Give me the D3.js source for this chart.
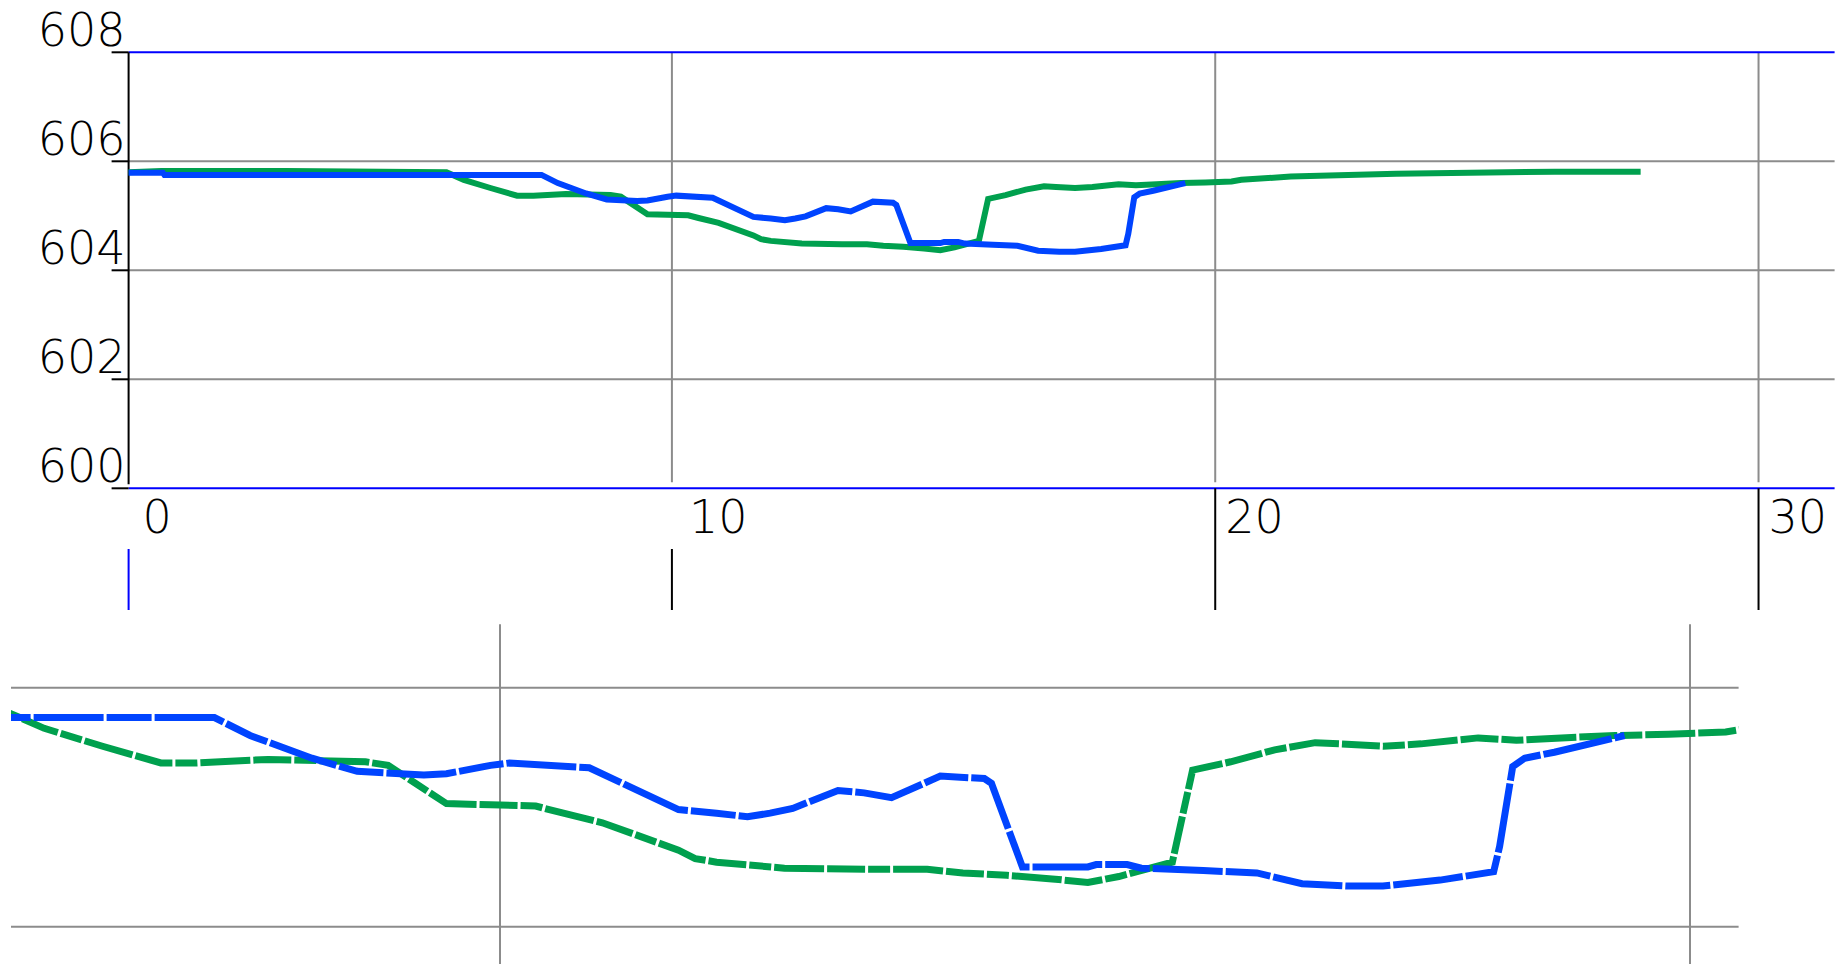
<!DOCTYPE html>
<html>
<head>
<meta charset="utf-8">
<script src="https://cdn.jsdelivr.net/npm/d3@7"></script>
<style>
  html, body { margin: 0; padding: 0; background: #fff; overflow: hidden; }
  svg { display: block; }
  text { font-family: "DejaVu Sans", sans-serif; font-weight: 200; fill: #000; }
</style>
</head>
<body>
<svg id="chart" width="1847" height="964"></svg>
<script>
// ---- data ----
const yTickValues = [600, 602, 604, 606, 608];
const xTickValues = [0, 10, 20, 30];
const yTickLabels = ["600", "602", "604", "606", "608"];
const xTickLabels = ["0", "10", "20", "30"];

// blue profile: [distance, elevation]
const blueX = [0, 0.63, 0.66, 7.6, 7.9, 8.42, 8.8, 9.36, 9.55, 9.92, 10.08, 10.75, 11.5, 11.82, 12.08, 12.27, 12.46, 12.84, 13.06, 13.29, 13.7, 14.07, 14.13, 14.39, 14.94, 15.01, 15.27, 15.39, 15.91, 16.36, 16.74, 17.13, 17.42, 17.9, 18.35, 18.4, 18.51, 18.61, 18.86, 19.37, 19.45];
const blueY = [605.79, 605.79, 605.75, 605.75, 605.6, 605.41, 605.3, 605.27, 605.28, 605.35, 605.37, 605.33, 604.98, 604.95, 604.92, 604.95, 604.99, 605.14, 605.12, 605.08, 605.26, 605.24, 605.2, 604.5, 604.5, 604.52, 604.52, 604.49, 604.47, 604.45, 604.36, 604.34, 604.34, 604.39, 604.46, 604.67, 605.34, 605.41, 605.46, 605.58, 605.6];

// green profile
const greenX = [0, 0.6, 1.0, 2.9, 5.85, 6.17, 6.66, 7.15, 7.45, 8.05, 8.87, 9.06, 9.55, 9.92, 10.3, 10.49, 10.86, 11.5, 11.64, 11.82, 12.39, 13.13, 13.59, 13.89, 14.26, 14.64, 14.94, 15.2, 15.65, 15.82, 16.14, 16.51, 16.85, 17.07, 17.42, 17.74, 18.22, 18.54, 18.92, 19.37, 19.82, 20.3, 20.48, 21.39, 23.33, 26.25, 27.83];
const greenY = [605.8, 605.82, 605.82, 605.82, 605.8, 605.66, 605.51, 605.37, 605.37, 605.4, 605.38, 605.35, 605.03, 605.02, 605.01, 604.96, 604.87, 604.64, 604.57, 604.54, 604.49, 604.48, 604.48, 604.45, 604.43, 604.4, 604.37, 604.42, 604.54, 605.31, 605.38, 605.48, 605.54, 605.53, 605.51, 605.53, 605.58, 605.56, 605.58, 605.6, 605.61, 605.63, 605.66, 605.72, 605.77, 605.81, 605.81];

// detail view grid values
const detailXGrid = [10, 20];
const detailYGrid = [604, 606];

const blue = blueX.map((x, i) => [x, blueY[i]]);
const green = greenX.map((x, i) => [x, greenY[i]]);

const svg = d3.select("#chart");

// ---- top panel ----
const xT = d3.scaleLinear().domain([0, 31.4]).range([128.6, 1834.6]);
const yT = d3.scaleLinear().domain([600, 608]).range([488.3, 52.3]);

const gTop = svg.append("g");
// horizontal grid
gTop.selectAll(".hg").data([602, 604, 606]).join("line")
  .attr("x1", xT(0)).attr("x2", xT(31.4))
  .attr("y1", d => yT(d)).attr("y2", d => yT(d))
  .attr("stroke", "#8c8c8c").attr("stroke-width", 2);
// vertical grid
gTop.selectAll(".vg").data([10, 20, 30]).join("line")
  .attr("x1", d => xT(d)).attr("x2", d => xT(d))
  .attr("y1", yT(608)).attr("y2", yT(600) - 6)
  .attr("stroke", "#8c8c8c").attr("stroke-width", 2);
// top border & x axis (blue)
gTop.append("line").attr("x1", xT(0)).attr("x2", xT(31.4))
  .attr("y1", yT(608)).attr("y2", yT(608)).attr("stroke", "#0000ff").attr("stroke-width", 2);
gTop.append("line").attr("x1", xT(0)).attr("x2", xT(31.4))
  .attr("y1", yT(600)).attr("y2", yT(600)).attr("stroke", "#0000ff").attr("stroke-width", 2);
// y axis line
gTop.append("line").attr("x1", xT(0)).attr("x2", xT(0))
  .attr("y1", yT(608)).attr("y2", yT(600) - 4).attr("stroke", "#000").attr("stroke-width", 2);
// y ticks
gTop.selectAll(".yt").data(yTickValues).join("line")
  .attr("x1", xT(0) - 17).attr("x2", xT(0))
  .attr("y1", d => yT(d)).attr("y2", d => yT(d))
  .attr("stroke", "#000").attr("stroke-width", 2);
// y labels
gTop.selectAll(".yl").data(yTickValues).join("text")
  .attr("x", xT(0) - 3).attr("y", d => yT(d) - 6)
  .attr("text-anchor", "end").attr("font-size", 46)
  .text((d, i) => yTickLabels[i]);

// x ticks below axis
gTop.selectAll(".xt").data(xTickValues).join("line")
  .attr("x1", d => xT(d)).attr("x2", d => xT(d))
  .attr("y1", d => (d >= 20 ? yT(600) : 549)).attr("y2", 610)
  .attr("stroke", d => (d === 0 ? "#0000ff" : "#000")).attr("stroke-width", 2);
// x labels
gTop.selectAll(".xl").data(xTickValues).join("text")
  .attr("x", d => xT(d) + (d === 0 ? 14 : (d === 10 ? 17 : 10)))
  .attr("y", 533)
  .attr("font-size", 46)
  .text((d, i) => xTickLabels[i]);

const lineT = d3.line().x(d => xT(d[0])).y(d => yT(d[1]));
gTop.append("path").datum(green).attr("d", lineT)
  .attr("fill", "none").attr("stroke", "#00a04e").attr("stroke-width", 6);
gTop.append("path").datum(blue).attr("d", lineT)
  .attr("fill", "none").attr("stroke", "#0044ff").attr("stroke-width", 6);

// ---- bottom (detail) panel ----
const xB = d3.scaleLinear().domain([10, 20]).range([500, 1690]);
const yB = d3.scaleLinear().domain([604, 606]).range([926.7, 687.7]);
const xMinB = xB.invert(11), xMaxB = xB.invert(1738.6);

const gBot = svg.append("g");
svg.append("clipPath").attr("id", "clipB").append("rect")
  .attr("x", 11).attr("y", 600).attr("width", 1738.6 - 11).attr("height", 364);

gBot.selectAll(".bhg").data(detailYGrid).join("line")
  .attr("x1", xB(xMinB)).attr("x2", xB(xMaxB))
  .attr("y1", d => yB(d)).attr("y2", d => yB(d))
  .attr("stroke", "#8c8c8c").attr("stroke-width", 2);
gBot.selectAll(".bvg").data(detailXGrid).join("line")
  .attr("x1", d => xB(d)).attr("x2", d => xB(d))
  .attr("y1", yB(606.53)).attr("y2", 964)
  .attr("stroke", "#8c8c8c").attr("stroke-width", 2);

const lineB = d3.line().x(d => xB(d[0])).y(d => yB(d[1]));
const gLines = gBot.append("g").attr("clip-path", "url(#clipB)");
gLines.append("path").datum(green).attr("d", lineB)
  .attr("fill", "none").attr("stroke", "#00a04e").attr("stroke-width", 7)
  .attr("stroke-dasharray", "38,3,22,3,50,3");
gLines.append("path").datum(blue).attr("d", lineB)
  .attr("fill", "none").attr("stroke", "#0044ff").attr("stroke-width", 7)
  .attr("stroke-dasharray", "70,3,45,3");
</script>
</body>
</html>
